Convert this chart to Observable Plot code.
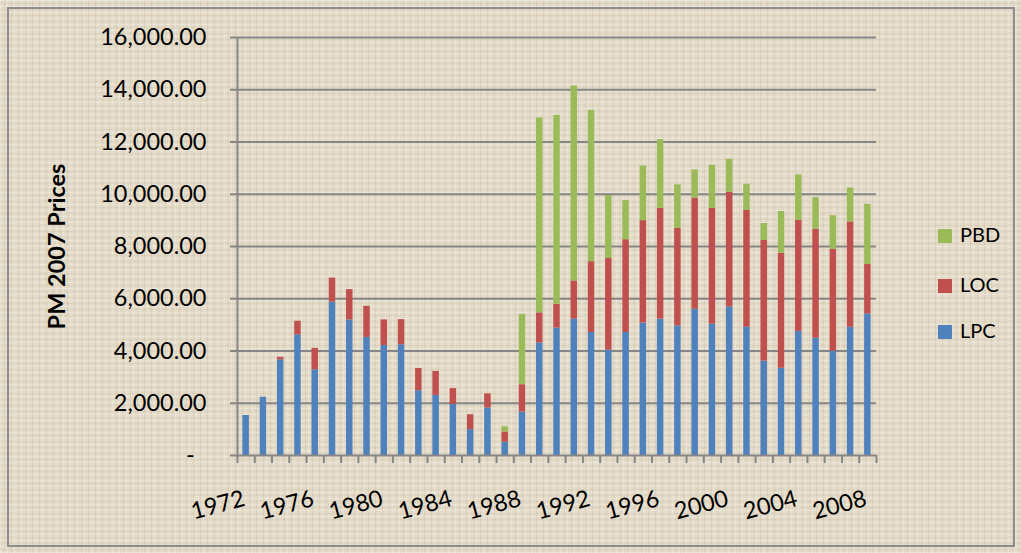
<!DOCTYPE html>
<html><head><meta charset="utf-8">
<script src="https://cdn.jsdelivr.net/npm/d3@7"></script>
<script src="https://cdn.jsdelivr.net/npm/@observablehq/plot@0.6"></script>
<style>
html,body{margin:0;padding:0;background:#fff}
#wrap{position:relative;width:1021px;height:553px;overflow:hidden;font-family:Lato,"Open Sans",sans-serif;
 background-color:#e3dac7;
 background-image:
  repeating-linear-gradient(0deg, rgba(255,255,255,0.28) 0 1px, rgba(0,0,0,0) 1px 3px, rgba(120,100,70,0.08) 3px 4px, rgba(0,0,0,0) 4px 6px),
  repeating-linear-gradient(90deg, rgba(255,255,255,0.22) 0 1px, rgba(0,0,0,0) 1px 4px, rgba(120,100,70,0.09) 4px 5px, rgba(0,0,0,0) 5px 7px);}
#frame{position:absolute;left:7px;top:7px;right:6px;bottom:6px;border:2px solid #8e8e8e;box-sizing:border-box;pointer-events:none}
#chart{position:absolute;left:0;top:0}
#legend{position:absolute;left:938px;top:0}
.li{position:absolute;left:0;white-space:nowrap;font-size:20px;line-height:20px;color:#000}
.sw{display:inline-block;width:14px;height:14px;margin-right:8px;vertical-align:-1px}
</style></head>
<body>
<div id="wrap"><div id="chart"></div><div id="legend"></div><div id="frame"></div></div>
<script>
// Categories
const years = [1972,1973,1974,1975,1976,1977,1978,1979,1980,1981,1982,1983,1984,1985,1986,1987,1988,1989,1990,
  1991,1992,1993,1994,1995,1996,1997,1998,1999,2000,2001,2002,2003,2004,2005,2006,2007,2008];
// Series values (PM 2007 prices)
const lpc = [1530,2230,3660,4620,3280,5870,5190,4520,4210,4240,2480,2300,1950,990,1820,510,1660,4310,4880,
  5220,4710,4030,4710,5070,5220,4960,5600,5030,5690,4910,3610,3340,4750,4490,3990,4910,5420];
const loc = [0,0,100,520,820,920,1160,1190,980,960,850,920,610,570,540,390,1050,1150,910,
  1460,2710,3510,3550,3920,4240,3740,4250,4430,4390,4470,4620,4400,4250,4170,3900,4030,1890];
const pbd = [0,0,0,0,0,0,0,0,0,0,0,0,0,0,0,200,2690,7460,7230,
  7460,5790,2410,1500,2090,2630,1660,1080,1650,1260,1000,650,1600,1740,1210,1290,1300,2300];
const seriesNames = ["LPC","LOC","PBD"];
const seriesColors = ["#4f81bd","#c0504d","#9bbb59"];
const yTicks = [0,2000,4000,6000,8000,10000,12000,14000,16000];
const xLabelYears = [1972,1976,1980,1984,1988,1992,1996,2000,2004,2008];
const yTitle = "PM 2007 Prices";

const seriesValues = [lpc, loc, pbd];
const table = years.flatMap((yr, i) => seriesNames.map((s, k) => ({year: yr, series: s, value: seriesValues[k][i]})));
const boundaries = [...years, years[years.length - 1] + 1];
const gray = "#868686";
const fmt = d3.format(",.2f");

const chart = Plot.plot({
  width: 1021, height: 553,
  marginLeft: 237, marginRight: 145, marginTop: 37, marginBottom: 98,
  style: {background: "transparent", fontFamily: "Lato, 'Open Sans', sans-serif", color: "#000", overflow: "visible"},
  x: {domain: [boundaries[0], boundaries[boundaries.length - 1]], axis: null},
  y: {domain: [yTicks[0], yTicks[yTicks.length - 1]], axis: null},
  color: {domain: seriesNames, range: seriesColors},
  marks: [
    Plot.gridY(yTicks.slice(1), {stroke: gray, strokeOpacity: 1, strokeWidth: 2}),
    Plot.rectY(table, {x1: "year", x2: d => d.year + 1, y: "value", fill: "series", insetLeft: 5.4, insetRight: 5.4}),
    Plot.ruleX([boundaries[0]], {stroke: gray, strokeWidth: 2}),
    Plot.ruleY([yTicks[0]], {stroke: gray, strokeWidth: 2}),
    Plot.axisY({ticks: yTicks, tickSize: 7, tickPadding: 24, fontSize: 23.5, stroke: gray, strokeWidth: 2, fill: "#000", label: null,
      tickFormat: d => d === 0 ? "-\u2002" : fmt(d)}),
    Plot.axisX({ticks: boundaries, tickSize: 8, stroke: gray, strokeWidth: 2, tickFormat: () => "", label: null}),
    Plot.text(xLabelYears, {x: d => d + 0.5, text: d => String(d), frameAnchor: "bottom", rotate: -15, textAnchor: "end", lineAnchor: "bottom",
      dy: 50, fontSize: 23.5, fill: "#000"}),
    Plot.text([yTitle], {frameAnchor: "left", rotate: -90, dx: -180, fontWeight: "bold", fontSize: 23.5,
      textAnchor: "middle", lineAnchor: "middle", fill: "#000"})
  ]
});
document.getElementById("chart").appendChild(chart);

// Legend (top item = top of stack)
const legendTops = {PBD: 224, LOC: 274, LPC: 320};
const legend = document.getElementById("legend");
[...seriesNames].reverse().forEach(name => {
  const div = document.createElement("div");
  div.className = "li";
  div.style.top = legendTops[name] + "px";
  const sw = document.createElement("span");
  sw.className = "sw";
  sw.style.background = seriesColors[seriesNames.indexOf(name)];
  div.appendChild(sw);
  div.appendChild(document.createTextNode(name));
  legend.appendChild(div);
});
</script>
</body></html>
